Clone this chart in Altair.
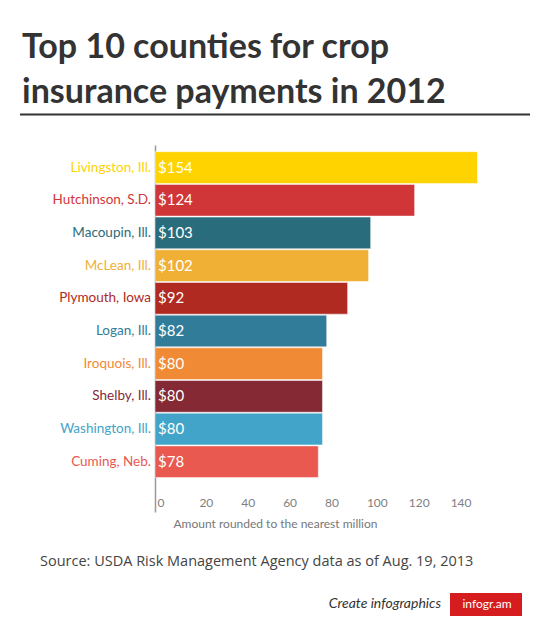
import altair as alt
import pandas as pd

counties = ["Livingston, Ill.", "Hutchinson, S.D.", "Macoupin, Ill.", "McLean, Ill.",
            "Plymouth, Iowa", "Logan, Ill.", "Iroquois, Ill.", "Shelby, Ill.",
            "Washington, Ill.", "Cuming, Neb."]
values = [154, 124, 103, 102, 92, 82, 80, 80, 80, 78]
colors = ["#ffd300", "#d03638", "#296c7c", "#f0b036", "#b02a21",
          "#317c99", "#f08a35", "#852a35", "#42a4c8", "#e9594f"]
tick_values = [0, 20, 40, 60, 80, 100, 120, 140]

title_lines = ["Top 10 counties for crop", "insurance payments in 2012"]
axis_title = "Amount rounded to the nearest million"
source = "Source: USDA Risk Management Agency data as of Aug. 19, 2013"

df = pd.DataFrame({"county": counties, "value": values})
df["label"] = ["$" + str(v) for v in values]

FONT = "Lato"

yenc = alt.Y("county:N", sort=counties,
             scale=alt.Scale(paddingInner=0.03, paddingOuter=0.629, align=0.163),
             axis=alt.Axis(labels=False, ticks=False, title=None, domainColor="#999999",
                           domainWidth=1.5, grid=False))
colorenc = alt.Color("county:N", scale=alt.Scale(domain=counties, range=colors), legend=None)

base = alt.Chart(df)

bars = base.mark_bar(stroke="white", strokeWidth=0.5).encode(
    x=alt.X("value:Q", scale=alt.Scale(domain=[0, 160], nice=False),
            axis=alt.Axis(values=tick_values, domain=False, ticks=False, grid=False,
                          labelAlign="left", labelOffset=2, labelFontSize=12,
                          labelColor="#808080", labelFont=FONT, offset=-17,
                          labelPadding=2, title=axis_title, titleFontSize=12,
                          titleFont=FONT, titleFontWeight="normal", titleColor="#777777",
                          titleAnchor="start", titleAlign="left", titleX=18, titleY=28,
                          titleBaseline="middle")),
    y=yenc,
    color=colorenc,
)

names = base.mark_text(align="right", baseline="middle", dx=-4, fontSize=13.5, font=FONT).encode(
    x=alt.value(0), y=yenc, text="county:N", color=colorenc)

vals = base.mark_text(align="left", baseline="middle", dx=3, fontSize=15, font=FONT,
                      color="white").encode(
    x=alt.value(0), y=yenc, text="label:N")

one = alt.Data(values=[{}])

t1 = alt.Chart(one).mark_text(align="left", baseline="alphabetic", fontSize=34, fontWeight="bold",
                               font=FONT, color="#333333").encode(
    x=alt.value(-133), y=alt.value(-87), text=alt.value(title_lines[0]))
t2 = alt.Chart(one).mark_text(align="left", baseline="alphabetic", fontSize=34, fontWeight="bold",
                               font=FONT, color="#333333").encode(
    x=alt.value(-133), y=alt.value(-42), text=alt.value(title_lines[1]))
underline = alt.Chart(one).mark_rule(color="#333333", strokeWidth=2).encode(
    x=alt.value(-135), x2=alt.value(375), y=alt.value(-30.5))

src = alt.Chart(one).mark_text(align="left", baseline="middle", fontSize=14.5, font="Open Sans",
                                color="#444444").encode(
    x=alt.value(-115), y=alt.value(417), text=alt.value(source))

create = alt.Chart(one).mark_text(align="right", baseline="middle", fontSize=14, font=FONT,
                                   fontStyle="italic", color="#333333").encode(
    x=alt.value(286), y=alt.value(459), text=alt.value("Create infographics"))
badge = alt.Chart(one).mark_rect(color="#d51c1f").encode(
    x=alt.value(295), x2=alt.value(367), y=alt.value(448), y2=alt.value(471))
badge_text = alt.Chart(one).mark_text(align="center", baseline="middle", fontSize=12, font=FONT,
                                       color="white").encode(
    x=alt.value(332), y=alt.value(459), text=alt.value("infogr.am"))

chart = alt.layer(bars, names, vals, t1, t2, underline, src, create, badge, badge_text).properties(
    width=335, height=367,
    autosize=alt.AutoSizeParams(type="none"),
    padding={"left": 147, "top": 137, "right": 52, "bottom": 118},
    background="white",
).configure_view(stroke=None)

chart.save("out.html", embed_options={"renderer": "svg", "actions": False})
